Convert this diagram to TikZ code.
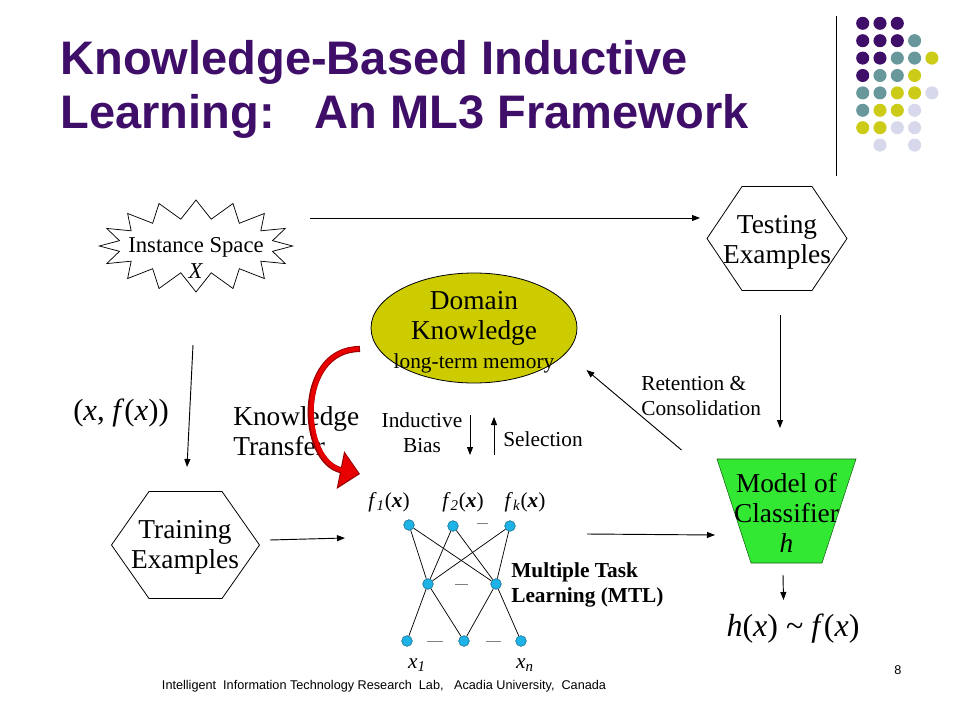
\documentclass[tikz,border=0pt]{standalone}
\usepackage{fontspec}
\setmainfont{Liberation Serif}
\setsansfont{Liberation Sans}
\usetikzlibrary{positioning,arrows.meta,shapes.geometric,shapes.symbols,backgrounds}
\definecolor{ttlpurple}{RGB}{62,14,104}
\definecolor{dotteal}{RGB}{104,152,156}
\definecolor{dotyel}{RGB}{204,204,24}
\definecolor{dotlav}{RGB}{216,216,236}
\definecolor{dkolive}{RGB}{204,204,0}
\definecolor{modgreen}{RGB}{51,232,51}
\definecolor{tfred}{RGB}{232,0,0}
\definecolor{tfdark}{RGB}{150,0,0}
\definecolor{unitblue}{RGB}{30,178,230}

\begin{document}
\begin{tikzpicture}[
  x=0.75pt, y=-0.75pt, >={Triangle[length=6pt,width=4.5pt]},
  ttl/.style={anchor=north west, align=left, inner sep=0pt, text=ttlpurple, font=\sffamily\bfseries\fontsize{35.3}{40.5}\selectfont},
  bigtxt/.style={align=center, inner sep=0pt, font=\fontsize{20.5}{22.5}\selectfont},
  smalltxt/.style={align=center, inner sep=0pt, font=\fontsize{16}{18.75}\selectfont},
  burst/.style={starburst, starburst points=16, starburst point height=14pt, random starburst=0, draw, line width=0.55pt, inner sep=0pt, minimum width=145pt, minimum height=69pt},
  unit/.style={circle, draw=unitblue!60!black, fill=unitblue, inner sep=0pt, minimum size=8pt, line width=0.4pt},
  link/.style={line width=0.55pt},
  gap/.style={gray, line width=0.4pt},
  flow/.style={->, line width=0.7pt}
]
  \useasboundingbox (0,0) rectangle (960,720);

  % title and colour dots
  \node[ttl] (title) at (60,40) {Knowledge-Based Inductive\\Learning:\hspace{30pt}An ML3 Framework};
  \draw[line width=0.9pt] (836.5,16) -- (836.5,176);
  \foreach \col/\row/\clr in {0/0/ttlpurple,1/0/ttlpurple,2/0/ttlpurple,
      0/1/ttlpurple,1/1/ttlpurple,2/1/ttlpurple,3/1/dotteal,
      0/2/ttlpurple,1/2/ttlpurple,2/2/dotteal,3/2/dotteal,4/2/dotyel,
      0/3/ttlpurple,1/3/dotteal,2/3/dotteal,3/3/dotyel,
      0/4/dotteal,1/4/dotteal,2/4/dotyel,3/4/dotyel,4/4/dotlav,
      0/5/dotteal,1/5/dotyel,2/5/dotyel,3/5/dotlav,
      0/6/dotyel,1/6/dotyel,2/6/dotlav,3/6/dotlav,
      1/7/dotlav,3/7/dotlav}
    \fill[\clr] (862.7+17.3*\col, 23.3+17.4*\row) circle[radius=4.9pt];

  % main boxes
  \node[burst, label={[smalltxt, font=\fontsize{17}{20}\selectfont, yshift=-9pt]center:{Instance Space\\\textit{X}}}] (inst) at (196,246) {};
  \node[bigtxt] (testex) at (777,242) {Testing\\Examples};
  \draw[line width=0.6pt] ([shift={(-70,-3.5)}]testex.center) -- ++(35,-52) -- ++(70,0) -- ++(35,52) -- ++(-35,52) -- ++(-70,0) -- cycle;
  \node[bigtxt] (train) at (185,547) {Training\\Examples};
  \draw[line width=0.6pt] ([shift={(-73.5,-2)}]train.center) -- ++(37.5,-53.5) -- ++(73,0) -- ++(37.5,53.5) -- ++(-37.5,53.5) -- ++(-73,0) -- cycle;
  \node[ellipse, draw, line width=0.6pt, fill=dkolive, minimum width=154.5pt, minimum height=82.5pt, inner sep=0pt,
    label={[bigtxt, yshift=-3pt]center:{Domain\\Knowledge\\[-1pt]{\fontsize{16}{18}\selectfont long-term memory}}}] (dk) at (474,328) {};
  \node[bigtxt] (model) at (786.5,513) {Model of\\Classifier\\\textit{h}};
  \begin{scope}[on background layer]
    \filldraw[fill=modgreen, draw=modgreen!40!black, line width=0.4pt] ([shift={(-69.5,-54)}]model.center) -- ++(139,0) -- ++(-34,104) -- ++(-71,0) -- cycle;
  \end{scope}
  \node[font=\fontsize{24}{28}\selectfont, inner sep=0pt] (hfx) at (793,629) {\textit{h}(\textit{x}) \textasciitilde{} \textit{f}(\textit{x})};

  % labels
  \node[font=\fontsize{23}{26}\selectfont, inner sep=0pt] (xfx) at (121,413) {(\textit{x}, \textit{f}(\textit{x}))};
  \node[bigtxt, align=left, anchor=west] (kt) at (233,431) {Knowledge\\Transfer};
  \node[smalltxt] (ib) at (422,433) {Inductive\\Bias};
  \node[smalltxt] (sel) at (543,439) {Selection};
  \node[smalltxt, align=left, anchor=west] (rc) at (641,396) {Retention \&\\Consolidation};
  \node[smalltxt, align=left, anchor=west, font=\bfseries\fontsize{16}{18.5}\selectfont] (mtl) at (511,585) {Multiple Task\\Learning (MTL)};

  % MTL network
  \node[unit] (t1) at (409,525) {};
  \node[unit] (t2) at (453,526) {};
  \node[unit] (tk) at (510,526) {};
  \node[unit] (m1) at (428,584) {};
  \node[unit] (m2) at (496,584) {};
  \node[unit] (b1) at (407,641) {};
  \node[unit] (b2) at (464,641) {};
  \node[unit] (bn) at (521,641) {};
  \foreach \u in {t1,t2,tk}
    \foreach \v in {m1,m2}
      \draw[link] (\u) -- (\v);
  \draw[link] (b1) -- (m1) -- (b2) -- (m2) -- (bn);
  \draw[gap] (477,523) -- (488,523);
  \draw[gap] (455,584) -- (468,584);
  \draw[gap] (427,641) -- (443,641);
  \draw[gap] (486,641) -- (501,641);
  \node[smalltxt] (f1) at (389,502) {\textit{f}\textsubscript{\textit{1}}(\textbf{\textit{x}})};
  \node[smalltxt] (f2) at (463,502) {\textit{f}\textsubscript{\textit{2}}(\textbf{\textit{x}})};
  \node[smalltxt] (fk) at (525,502) {\textit{f}\textsubscript{\textit{k}}(\textbf{\textit{x}})};
  \node[smalltxt] (x1) at (417,665) {\textit{x}\textsubscript{\textit{1}}};
  \node[smalltxt] (xn) at (525,665) {\textit{x}\textsubscript{\textit{n}}};

  % connectors
  \draw[flow] ([shift={(114,-28)}]inst.center) -- ([shift={(-77,-24)}]testex.center);
  \draw[flow] ([shift={(3,73)}]testex.center) -- ([shift={(-6.5,-85)}]model.center);
  \draw[flow] ([shift={(-3,99)}]inst.center) -- ([shift={(2,-80)}]train.center);
  \draw[flow] ([shift={(85,-7)}]train.center) -- ([shift={(-64,13)}]t1.center);
  \draw[flow] ([shift={(77,8)}]tk.center) -- ([shift={(-71.5,22)}]model.center);
  \draw[flow] ([shift={(-3.5,62)}]model.center) -- ([shift={(-9.5,-29)}]hfx.center);
  \draw[flow] ([shift={(-105,-63)}]model.center) -- ([shift={(112.5,42)}]dk.center);
  \draw[flow] ([shift={(48,-18)}]ib.center) -- ([shift={(48,22)}]ib.center);
  \draw[flow] ([shift={(-49,16)}]sel.center) -- ([shift={(-49,-22)}]sel.center);
  % knowledge transfer arrow
  \draw[tfdark, line width=4.6pt, -{Triangle[length=15pt,width=28pt]}] ([shift={(-114,21)}]dk.center) .. controls (295,349) and (300,462) .. ([shift={(-49,-51)}]t1.center);
  \draw[tfred, line width=3.2pt, -{Triangle[length=13pt,width=24pt]}] ([shift={(-115,21)}]dk.center) .. controls (296,349) and (301,462) .. ([shift={(-50.5,-51.5)}]t1.center);

  % footer
  \node[font=\sffamily\fontsize{9.5}{11}\selectfont, inner sep=0pt] (foot) at (384,686) {Intelligent\ \ Information Technology Research\ \ Lab,\ \ \ Acadia University,\ \ Canada};
  \node[font=\sffamily\fontsize{9.5}{11}\selectfont, inner sep=0pt] (pnum) at (898,670) {8};
\end{tikzpicture}
\end{document}
